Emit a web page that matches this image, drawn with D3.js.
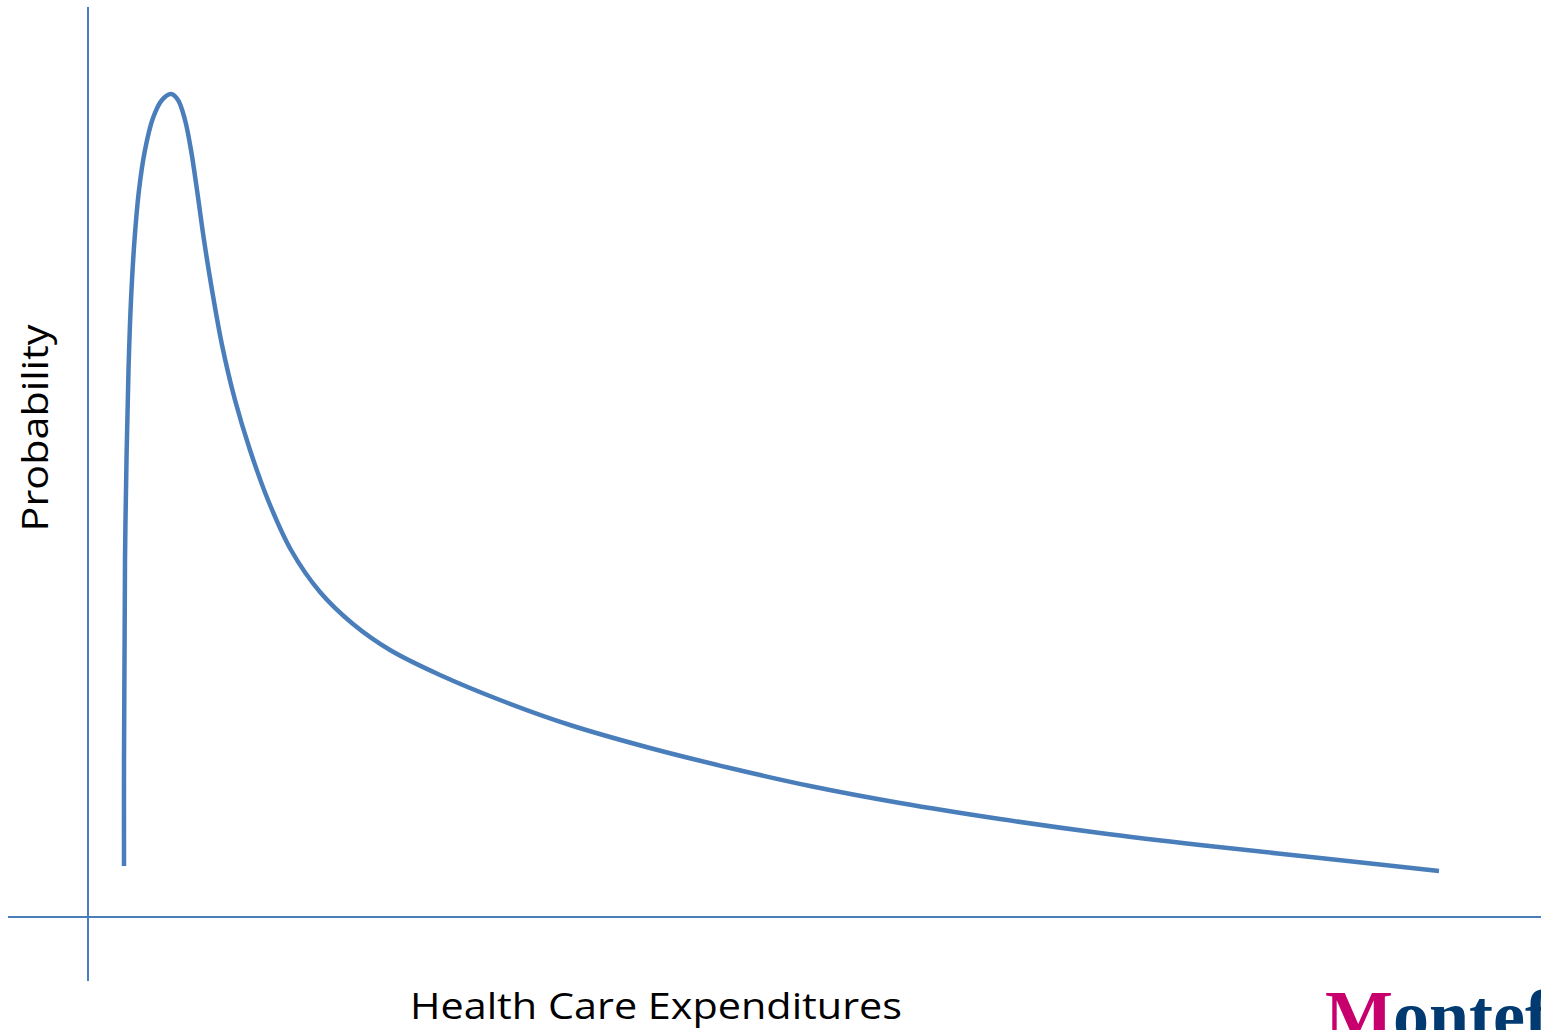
<!DOCTYPE html>
<html><head><meta charset="utf-8">
<script src="https://cdn.jsdelivr.net/npm/d3@7"></script>
<style>html,body{margin:0;padding:0;background:#fff;overflow:hidden}</style>
</head><body>
<svg id="c" width="1541" height="1030"></svg>
<script>
// Data (arbitrary units: expenditure vs probability density)
const expenditure = [36, 36, 36.5, 37, 38.5, 40.5, 43, 46.5, 51, 57, 65, 74, 83, 90, 97, 103, 109, 116, 124, 134, 147, 162, 180, 203, 232, 265, 302, 352, 412, 482, 562, 642, 722, 812, 912, 1012, 1112, 1232, 1351];
const probability = [51, 157, 257, 357, 457, 547, 617, 677, 727, 767, 799, 817, 823, 817, 797, 767, 727, 677, 627, 572, 517, 467, 417, 367, 325, 293, 267, 242, 217, 192, 169, 149, 131, 114, 98, 84, 72, 59, 46];
const xLabel = "Health Care Expenditures";
const yLabel = "Probability";

const svg = d3.select("#c");
const x = d3.scaleLinear().domain([0, 1453]).range([88, 1541]);
const y = d3.scaleLinear().domain([0, 910]).range([917, 7]);
const col = "#4a7ebb";

// axes
svg.append("line").attr("x1", 88).attr("x2", 88).attr("y1", 7).attr("y2", 981)
  .attr("stroke", col).attr("stroke-width", 2);
svg.append("line").attr("x1", 8).attr("x2", 1541).attr("y1", y(0)).attr("y2", y(0))
  .attr("stroke", col).attr("stroke-width", 2);

const pts = expenditure.map((e, i) => [e, probability[i]]);
const line = d3.line().x(d => x(d[0])).y(d => y(d[1])).curve(d3.curveCatmullRom.alpha(0.5));
svg.append("path").attr("d", line(pts)).attr("fill", "none")
  .attr("stroke", col).attr("stroke-width", 4.5);

svg.append("text").attr("x", 656).attr("y", 1019).attr("text-anchor", "middle")
  .attr("font-family", "Open Sans, sans-serif").attr("font-size", 36).attr("fill", "#000")
  .attr("textLength", 492).attr("lengthAdjust", "spacingAndGlyphs")
  .text(xLabel);
svg.append("text").attr("transform", "translate(48,428) rotate(-90)").attr("text-anchor", "middle")
  .attr("font-family", "Open Sans, sans-serif").attr("font-size", 37).attr("fill", "#000")
  .attr("textLength", 207).attr("lengthAdjust", "spacingAndGlyphs")
  .text(yLabel);

// logo (cut off at the right edge, as in the reference)
const logo = svg.append("text").attr("x", 1325).attr("y", 1040)
  .attr("font-family", "Liberation Serif, serif").attr("font-weight", "bold").attr("font-size", 72);
logo.append("tspan").attr("fill", "#c8006e").text("M");
logo.append("tspan").attr("fill", "#003a70").text("ontefiore");
</script>
</body></html>
